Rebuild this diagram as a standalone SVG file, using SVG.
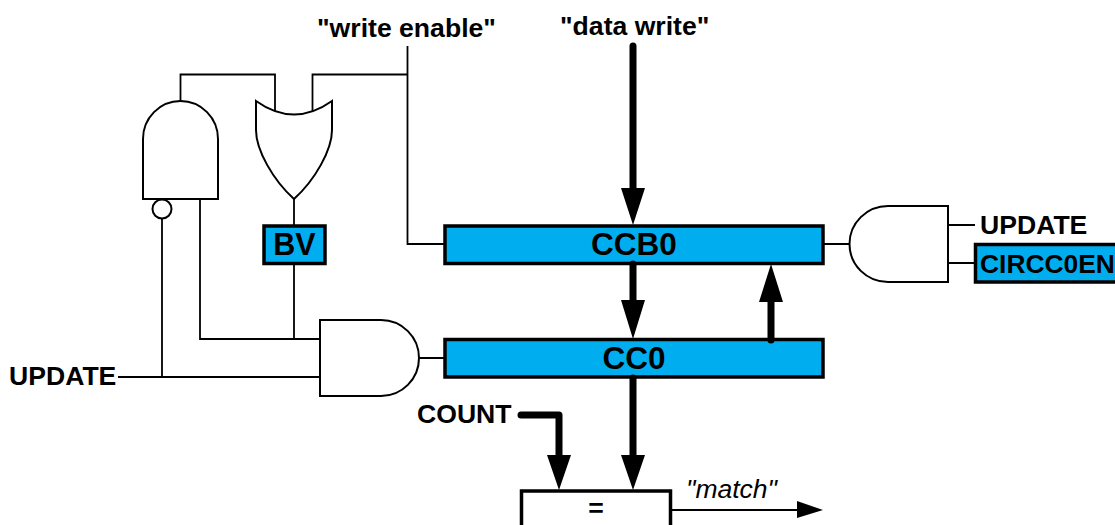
<svg xmlns="http://www.w3.org/2000/svg" width="1115" height="525" viewBox="0 0 1115 525">
<style>
text{font-family:"Liberation Sans",Arial,sans-serif;font-weight:bold;fill:#000}
.t{font-size:26.600px}
.b{font-size:31.500px;text-anchor:middle}
.reg{fill:#00aeef;stroke:#000;stroke-width:3.500}
.gate{fill:#fff;stroke:#000;stroke-width:2}
.w{fill:none;stroke:#000;stroke-width:1.800}
.k{fill:none;stroke:#000;stroke-width:7;stroke-linejoin:round;stroke-linecap:round}
.h{fill:#000}
</style>
<g id="nand-gate"><path class="gate" d="M143 199V139A37.500 38 0 0 1 218 139V199Z"/><circle class="gate" cx="162" cy="209" r="9.500"/></g>
<g id="or-gate"><path class="gate" d="M256 101Q294 128 332 101V130C332 150 315 180 294 199C273 180 256 150 256 130Z"/></g>
<g id="bv"><rect class="reg" x="264" y="226" width="61" height="37.500"/><text class="b" x="294.500" y="255" style="font-size:30.500px">BV</text></g>
<g id="and-lower"><path class="gate" d="M320 320H381A38 38 0 0 1 381 396H320Z"/></g>
<g id="and-right"><path class="gate" d="M948 206H888A38.500 38 0 0 0 888 282H948Z"/></g>
<g id="ccb0"><rect class="reg" x="445" y="226" width="378" height="37.500"/><text class="b" x="634" y="255">CCB0</text></g>
<g id="cc0"><rect class="reg" x="445" y="339.500" width="378" height="37.500"/><text class="b" x="634" y="368.500">CC0</text></g>
<g id="circc0en"><rect class="reg" x="975.500" y="244.500" width="145" height="37.500"/><text x="980" y="273" style="font-size:26.400px">CIRCC0EN</text></g>
<g id="compare"><path d="M521.500 525V491H670.500V525" fill="#fff" stroke="#000" stroke-width="3.500"/><text class="t" x="596" y="517" text-anchor="middle">=</text></g>
<g id="connectors">
<path class="w" d="M180.500 101V74.500H275V111M312.500 111V74.500H407.500M407.500 46V244H444"/>
<path class="w" d="M294 199V225M294 264V339M200 199V339H320M162 219V377M118 377H320M419 358H444M824 244H849M948 225H975M948 263H975M671 510H800"/>
<path class="k" d="M633 46V190M633 264V302M771 340V300M633 378V456M521 415H559V456"/>
<path class="h" d="M621 188H645L633 225ZM621 300H645L633 339ZM759 302H783L771 264ZM621 455H645L633 490ZM547 455H571L559 490ZM797 501L823 510L797 518Z"/>
</g>
<g id="labels">
<text class="t" x="317" y="37">"write enable"</text>
<text class="t" x="560" y="35">"data write"</text>
<text class="t" x="9" y="385">UPDATE</text>
<text class="t" x="417" y="423">COUNT</text>
<text class="t" x="980" y="234">UPDATE</text>
<text x="686" y="498" style="font-size:26.500px;font-weight:normal;font-style:italic">"match"</text>
</g>
</svg>
